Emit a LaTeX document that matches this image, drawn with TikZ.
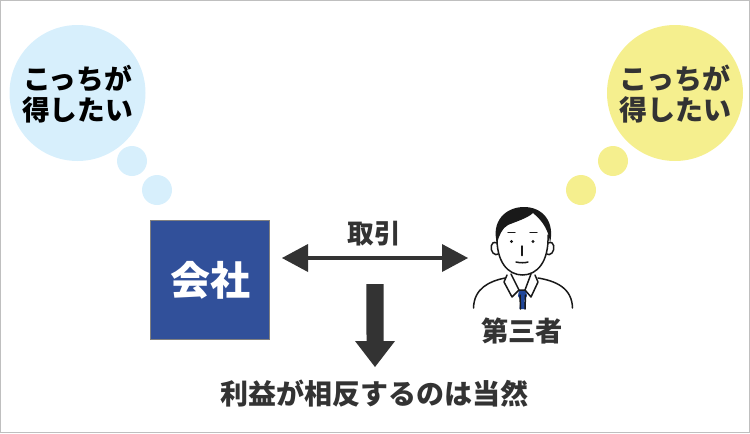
\documentclass[tikz,border=0pt]{standalone}
\usepackage{fontspec}
\newfontfamily\cjk{Noto Sans CJK JP}
\definecolor{skyb}{HTML}{D7EFFC}
\definecolor{yel}{HTML}{F5EF8E}
\definecolor{navy}{HTML}{31509A}
\definecolor{ink}{HTML}{333333}
\definecolor{tie}{HTML}{1F4699}
\tikzset{
  lbl/.style={font=\cjk\bfseries\fontsize{#1}{#1}\selectfont,text=ink,inner sep=0pt,align=center},
  bubble/.style={circle,draw=none,fill=#1,inner sep=0pt},
  pen/.style={draw=black!90,line width=1.5*0.75pt,line cap=round,line join=round}
}
\begin{document}
\begin{tikzpicture}[x=0.75pt,y=-0.75pt]
\useasboundingbox (0,0) rectangle (750,433);
\draw[draw=black!25,line width=0.75pt] (0.5,0.5) rectangle (749.5,432.5);
\node[bubble=skyb,minimum size=102pt] (bl) at (77.5,93) {};
\node[bubble=skyb,minimum size=22.5pt] (bl2) at (132,161) {};
\node[bubble=skyb,minimum size=22.5pt] (bl3) at (157,190) {};
\node[bubble=yel,minimum size=102pt] (yl) at (675,93) {};
\node[bubble=yel,minimum size=22.5pt] (yl2) at (613,161) {};
\node[bubble=yel,minimum size=22.5pt] (yl3) at (581,190) {};
\node[lbl=20.8,text=black] (tl) at (77.5,94) {こっちが\\[2.7pt]得したい};
\node[lbl=21] (tr) at (675,94) {こっちが\\[2.5pt]得したい};
\node[draw=black!50,line width=0.75pt,fill=navy,minimum size=89.5pt,inner sep=0pt,
      font=\cjk\bfseries\fontsize{30}{30}\selectfont,text=white] (co) at (210,280) {会社};
\coordinate (aL) at (282,258);
\coordinate (aR) at (468,258);
\draw[draw=ink,line width=2.4pt] ([xshift=18pt]aL) -- ([xshift=-18pt]aR);
\fill[ink] (aL) -- ++(26,-14) -- ++(0,28) -- cycle;
\fill[ink] (aR) -- ++(-26,-14) -- ++(0,28) -- cycle;
\node[lbl=20] (tt) at (374.5,234) {取引};
\coordinate (dT) at (375,284);
\coordinate (dB) at (375,367);
\fill[ink] ([xshift=-6.4pt]dT) -- ([xshift=6.4pt]dT) -- ++(0,57) -- ++(11.5,0) -- (dB) -- ++(-20,-26) -- ++(11.5,0) -- cycle;
\node[lbl=21] (res) at (374,394) {利益が相反するのは当然};
\begin{scope}
  \fill[tie] (519,290) -- (526,290) -- (527,296) -- (524.5,300) -- (525.5,309) -- (519.5,309) -- (520.5,300) -- (518,296) -- cycle;
  \draw[pen] (473.5,308) .. controls (474,288) and (490,281) .. (505,278);
  \draw[pen] (572.5,308) .. controls (572,288) and (556,281) .. (538,278);
  \draw[pen] (507,275) -- (504,282) -- (512,297) -- (519,290) -- (525,290) -- (531,297) -- (538,282) -- (535,275);
  \draw[pen] (511,274) -- (519,290);
  \draw[pen] (531,274) -- (525,290);
  \draw[pen] (520,295) -- (520.5,309);
  \draw[pen] (525.5,295) -- (525,309);
  \draw[pen,fill=white] (497,235) .. controls (496,262) and (508,275) .. (522.5,275)
     .. controls (537,275) and (549,262) .. (548,235);
  \draw[pen] (497,243) .. controls (490,240) and (490,250) .. (493,253) .. controls (495,255) and (497,255) .. (498,254);
  \draw[pen] (548,243) .. controls (555,240) and (555,250) .. (552,253) .. controls (550,255) and (548,255) .. (547,254);
  \fill[black!90] (497,243) .. controls (491,222) and (505,207) .. (524,207)
     .. controls (543,207) and (555,222) .. (550,243)
     .. controls (549,232) and (544,222) .. (533,213)
     .. controls (528,218) and (515,222) .. (508,225)
     .. controls (502,228) and (499,236) .. (497,243) -- cycle;
  \fill[black!90] (511.5,241.5) circle (1.6);
  \fill[black!90] (533,241.5) circle (1.6);
  \draw[pen,line width=0.8pt] (508,232.5) -- (515,232.5);
  \draw[pen,line width=0.8pt] (530,232.5) -- (537,232.5);
  \draw[pen] (522,246) -- (522,255.5);
  \draw[pen] (516,262) .. controls (520,263) and (525,263) .. (528,262);
\end{scope}
\node[lbl=20.5] (th) at (522,331) {第三者};
\end{tikzpicture}
\end{document}
